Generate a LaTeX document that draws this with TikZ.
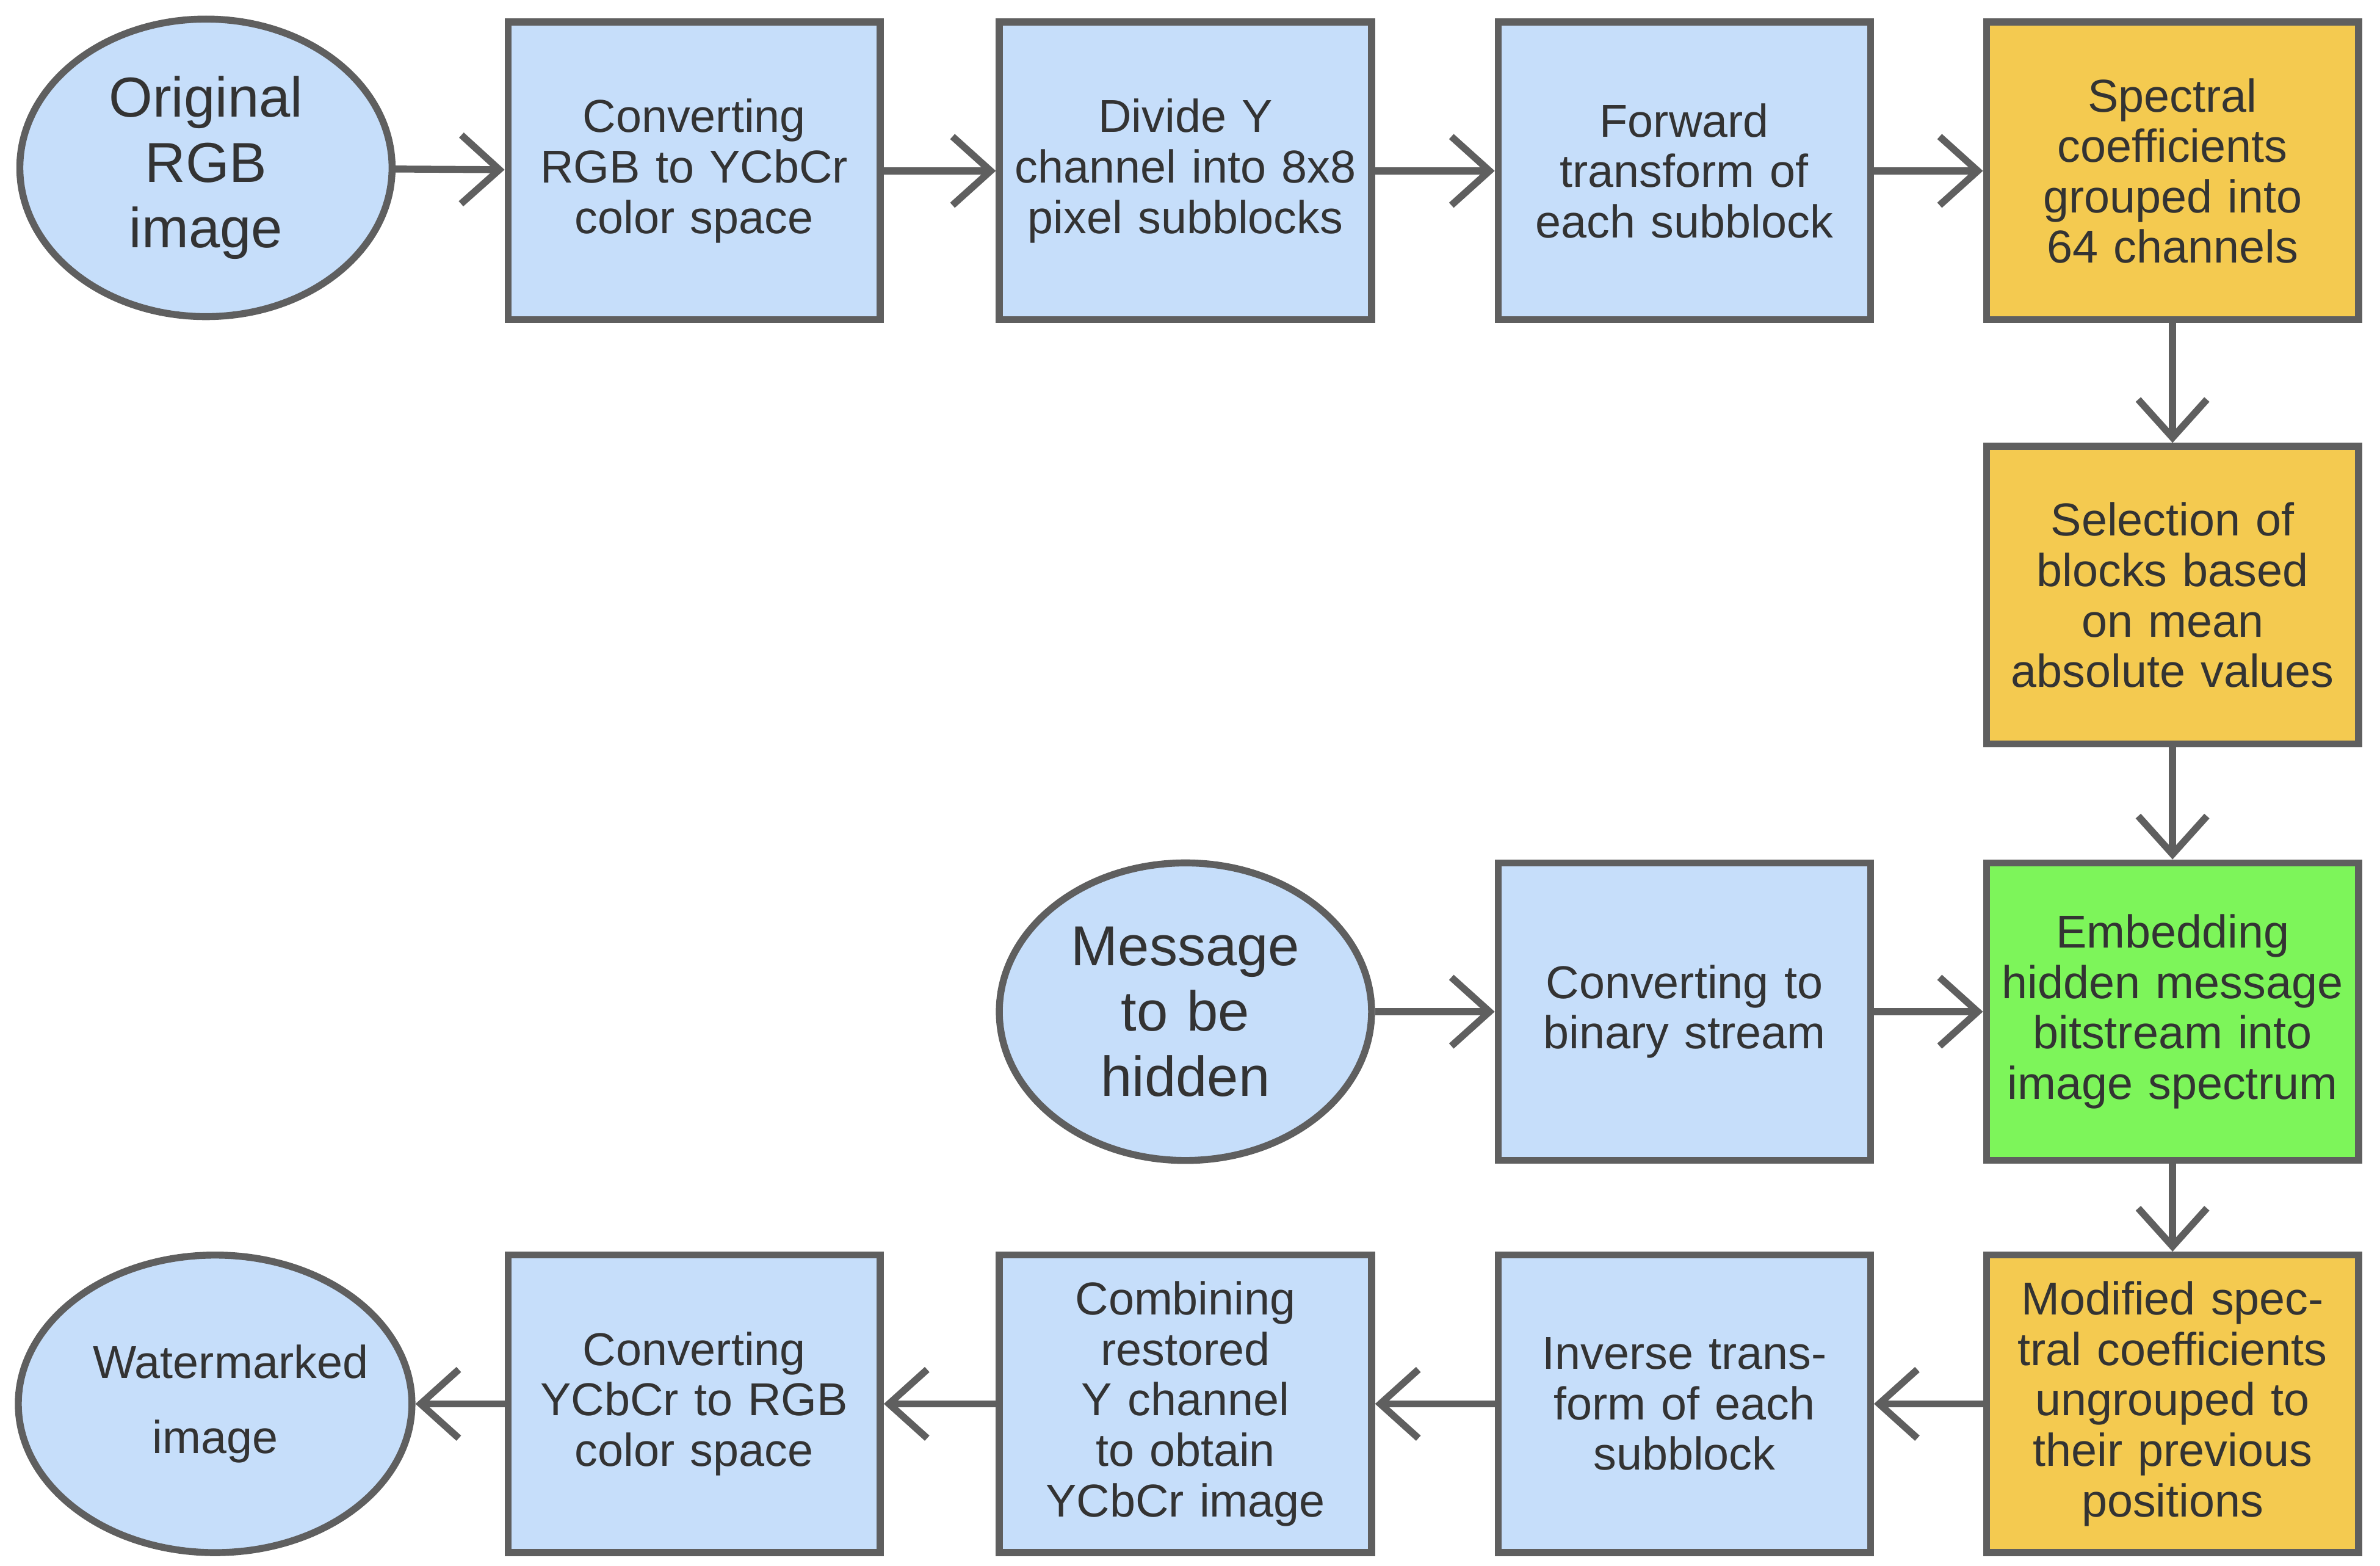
\documentclass[tikz,border=0pt]{standalone}
\usepackage{fontspec}
\setmainfont{Liberation Sans}
\usetikzlibrary{arrows.meta,shapes.geometric}
\definecolor{boxblue}{HTML}{C6DEFA}
\definecolor{boxyellow}{HTML}{F4CA50}
\definecolor{boxgreen}{HTML}{7DF55A}
\definecolor{edgegray}{HTML}{5F5F5F}
\begin{document}
\begin{tikzpicture}[
    proc/.style={draw=edgegray,line width=1.3pt,fill=boxblue,minimum width=2.44cm,
      minimum height=1.95cm,text width=2.3cm,align=center,inner sep=1pt,
      font=\fontsize{8.6}{9.4}\selectfont,text=black!80},
    source/.style={proc,ellipse,minimum width=2.44cm,text width=1.6cm,
      font=\fontsize{10.5}{12.2}\selectfont},
    flow/.style={draw=edgegray,line width=1.3pt,-{Straight Barb[length=2.5mm,width=4.5mm]}}
  ]
    \useasboundingbox (0,0) rectangle (15.6,-10.26);

    % first row
    \node[source] (orig) at (1.35,-1.10) {Original RGB image};
    \node[proc] (toycc) at (4.55,-1.12) {Converting RGB to YCbCr color space};
    \node[proc] (divide) at (7.77,-1.12) {Divide Y channel into 8x8 pixel subblocks};
    \node[proc] (fwd) at (11.04,-1.12) {Forward transform of each subblock};
    \node[proc,fill=boxyellow] (group) at (14.24,-1.12) {Spectral coefficients grouped into 64 channels};

    % right column
    \node[proc,fill=boxyellow] (select) at (14.24,-3.90) {Selection of blocks based on mean absolute values};
    \node[source] (msg) at (7.77,-6.63) {Message to be hidden};
    \node[proc] (binary) at (11.04,-6.63) {Converting to binary stream};
    \node[proc,fill=boxgreen] (embed) at (14.24,-6.63) {Embedding hidden message bitstream into image spectrum};

    % last row
    \node[proc,fill=boxyellow] (ungroup) at (14.24,-9.20) {Modified spectral coefficients ungrouped to their previous positions};
    \node[proc] (inv) at (11.04,-9.20) {Inverse transform of each subblock};
    \node[proc] (combine) at (7.77,-9.20) {Combining restored Y channel to obtain YCbCr image};
    \node[proc] (torgb) at (4.55,-9.20) {Converting YCbCr to RGB color space};
    \node[source,minimum width=2.58cm,font=\fontsize{8.6}{14}\selectfont] (wm) at (1.41,-9.20) {Watermarked image};

    \foreach \a/\b in {orig/toycc,toycc/divide,divide/fwd,fwd/group,group/select,
      select/embed,msg/binary,binary/embed,embed/ungroup,ungroup/inv,inv/combine,
      combine/torgb,torgb/wm}{
      \draw[flow] (\a) -- (\b);
    }
\end{tikzpicture}
\end{document}
